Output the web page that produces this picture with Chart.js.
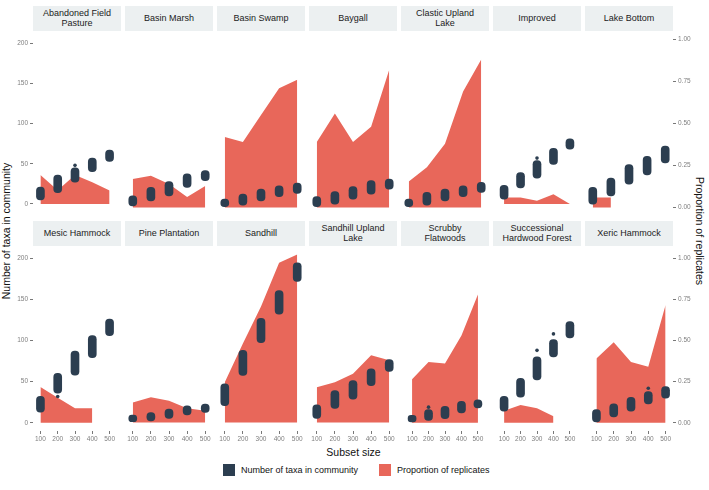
<!DOCTYPE html>
<html>
<head>
<meta charset="utf-8">
<script src="https://cdn.jsdelivr.net/npm/chart.js@4.4.0/dist/chart.umd.min.js"></script>
<style>
  body { margin: 0; background: #fff; font-family: "Liberation Sans", Arial, sans-serif; }
  #wrap { position: relative; width: 709px; height: 490px; overflow: hidden; }
  #wrap canvas { position: absolute; }
  .strip {
    position: absolute; background: #ecf0f1; color: #222; font-size: 9px; line-height: 9.7px;
    display: flex; align-items: center; justify-content: center; text-align: center; white-space: pre;
  }
  .title { position: absolute; color: #111; font-size: 10.5px; white-space: nowrap; }
  .key { position: absolute; width: 12px; height: 12px; }
  .keytxt { position: absolute; font-size: 9px; color: #111; white-space: nowrap; }
</style>
</head>
<body>
<div id="wrap">
  <div class="title" style="left:353.5px;top:452px;transform:translate(-50%,-50%);">Subset size</div>
  <div class="title" style="left:6px;top:231px;transform:translate(-50%,-50%) rotate(-90deg);">Number of taxa in community</div>
  <div class="title" style="left:700px;top:231px;transform:translate(-50%,-50%) rotate(90deg);">Proportion of replicates</div>
  <div class="key" style="left:223px;top:464px;background:#2c3e50;"></div>
  <div class="keytxt" style="left:241px;top:465px;">Number of taxa in community</div>
  <div class="key" style="left:379px;top:464px;background:#e8675a;"></div>
  <div class="keytxt" style="left:397px;top:465px;">Proportion of replicates</div>
</div>
<script>
// --- dados ---
const habitats = [
  'Abandoned Field\nPasture', 'Basin Marsh', 'Basin Swamp', 'Baygall', 'Clastic Upland\nLake', 'Improved', 'Lake Bottom',
  'Mesic Hammock', 'Pine Plantation', 'Sandhill', 'Sandhill Upland\nLake', 'Scrubby\nFlatwoods', 'Successional\nHardwood Forest', 'Xeric Hammock'
];
const subsetSizes = [100, 200, 300, 400, 500];

// proporção de réplicas (eixo da direita)
const proportion = [
  [0.18, 0.085, 0.18, 0.135, 0.083],
  [0.17, 0.19, 0.14, 0.063, 0.128],
  [0.42, 0.39, 0.55, 0.71, 0.76],
  [0.39, 0.56, 0.39, 0.48, 0.82],
  [0.155, 0.24, 0.38, 0.69, 0.88],
  [0.04, 0.04, 0.02, 0.06, 0],
  [0.06, 0.06, null, null, null],
  [0.217, 0.152, 0.089, 0.089, null],
  [0.12, 0.15, 0.13, 0.085, 0.07],
  [0.24, 0.47, 0.69, 0.95, 1.0],
  [0.21, 0.24, 0.29, 0.40, 0.37],
  [0.265, 0.37, 0.36, 0.53, 0.78],
  [0.073, 0.108, 0.089, 0.039, null],
  [0.39, 0.49, 0.37, 0.34, 0.715]
];

// faixa de número de táxons (mín / máx de cada nuvem de pontos)
const taxaLow = [
  [5, 14, 27, 40, 53], [2, 8, 14, 24, 32], [1, 3, 8, 13, 17], [1, 4, 10, 16, 22], [1, 3, 8, 13, 18],
  [6, 20, 32, 49, 68], [4, 14, 28, 39, 53], [13, 36, 58, 79, 106], [1, 2, 5, 9, 12], [20, 56, 95, 129, 168],
  [5, 17, 28, 44, 61], [1, 3, 5, 12, 18], [14, 31, 52, 80, 103], [1, 7, 14, 23, 30]
];
const taxaHigh = [
  [21, 36, 45, 57, 67], [14, 24, 31, 40, 44], [10, 16, 22, 26, 29], [13, 19, 25, 32, 34], [10, 18, 22, 26, 30],
  [23, 39, 54, 69, 81], [24, 35, 51, 61, 73], [32, 60, 87, 106, 126], [9, 12, 16, 20, 22], [46, 86, 124, 157, 190],
  [21, 38, 50, 64, 75], [9, 16, 20, 26, 28], [32, 54, 80, 101, 123], [16, 23, 31, 38, 44]
];

// pontos soltos: [painel, tamanho, táxons]
const outliers = [[0, 300, 48], [5, 300, 57], [7, 200, 32], [11, 200, 19], [12, 300, 88], [12, 400, 108], [13, 400, 42]];

const leftTicks = [0, 50, 100, 150, 200];
const rightTicks = [0, 0.25, 0.5, 0.75, 1];

const corPontos = '#2c3e50';
const corArea = '#e8675a';
const fonte = 'Liberation Sans, Arial, sans-serif';
const wrap = document.getElementById('wrap');

function tickFont() { return { size: 6.5, family: fonte }; }

// tamanho fixo do eixo, sem o recuo automático dos rótulos das pontas
function fixar(s, w, h) {
  if (w !== null) s.width = w;
  if (h !== null) s.height = h;
  s.paddingTop = 0; s.paddingBottom = 0; s.paddingLeft = 0; s.paddingRight = 0;
}

function criarPainel(i) {
  const c = i % 7, r = Math.floor(i / 7);
  const left = 33 + 92 * c, top = r === 0 ? 31 : 246;
  const temEsq = c === 0, temDir = c === 6, temBaixo = r === 1;
  const padL = temEsq ? 33 : 0, padR = temDir ? 24 : 0, padB = temBaixo ? 14 : 0;

  // faixa com o nome
  const strip = document.createElement('div');
  strip.className = 'strip';
  strip.style.left = left + 'px';
  strip.style.top = (top - 25) + 'px';
  strip.style.width = '88px';
  strip.style.height = '25px';
  strip.textContent = habitats[i];
  wrap.appendChild(strip);

  const cv = document.createElement('canvas');
  cv.width = 88 + padL + padR;
  cv.height = 185 + padB;
  cv.style.left = (left - padL) + 'px';
  cv.style.top = top + 'px';
  wrap.appendChild(cv);

  const pontosSoltos = outliers.filter(o => o[0] === i).map(o => ({ x: o[1], y: o[2] }));

  new Chart(cv.getContext('2d'), {
    type: 'bar',
    data: {
      datasets: [
        {
          type: 'scatter',
          data: pontosSoltos,
          yAxisID: 'y',
          pointRadius: 1.8,
          backgroundColor: corPontos,
          borderWidth: 0,
          order: 0
        },
        {
          type: 'bar',
          data: subsetSizes.map((s, k) => ({ x: s, y: [taxaLow[i][k], taxaHigh[i][k]] })),
          yAxisID: 'y',
          backgroundColor: corPontos,
          barThickness: 8,
          borderRadius: 4,
          borderSkipped: false,
          order: 1
        },
        {
          type: 'line',
          data: subsetSizes.map((s, k) => ({ x: s, y: proportion[i][k] })),
          yAxisID: 'y2',
          fill: 'origin',
          backgroundColor: corArea,
          borderWidth: 0,
          pointRadius: 0,
          tension: 0,
          order: 2
        }
      ]
    },
    options: {
      responsive: false,
      animation: false,
      devicePixelRatio: 1,
      layout: { padding: 0 },
      plugins: { legend: { display: false }, tooltip: { enabled: false } },
      scales: {
        x: {
          type: 'linear', min: 57, max: 543, offset: false,
          display: temBaixo,
          afterBuildTicks: s => { s.ticks = subsetSizes.map(v => ({ value: v })); },
          afterFit: s => fixar(s, null, temBaixo ? 14 : 0),
          grid: { drawOnChartArea: false, offset: false, tickLength: 3, color: '#555', lineWidth: 0.8 },
          border: { display: false },
          ticks: { color: '#7f7f7f', font: tickFont(), padding: 1, maxRotation: 0, autoSkip: false }
        },
        y: {
          type: 'linear', position: 'left', min: -10, max: 210,
          display: temEsq,
          afterBuildTicks: s => { s.ticks = leftTicks.map(v => ({ value: v })); },
          afterFit: s => fixar(s, temEsq ? 33 : 0, null),
          grid: { drawOnChartArea: false, tickLength: 3, color: '#555', lineWidth: 0.8 },
          border: { display: false },
          ticks: { color: '#7f7f7f', font: tickFont(), padding: 2 }
        },
        y2: {
          type: 'linear', position: 'right', min: -0.05, max: 1.05,
          display: temDir,
          afterBuildTicks: s => { s.ticks = rightTicks.map(v => ({ value: v })); },
          afterFit: s => fixar(s, temDir ? 24 : 0, null),
          grid: { drawOnChartArea: false, tickLength: 3, color: '#555', lineWidth: 0.8 },
          border: { display: false },
          ticks: { color: '#7f7f7f', font: tickFont(), padding: 2, callback: v => v.toFixed(2) }
        }
      }
    }
  });
}

for (let i = 0; i < habitats.length; i++) criarPainel(i);
</script>
</body>
</html>
